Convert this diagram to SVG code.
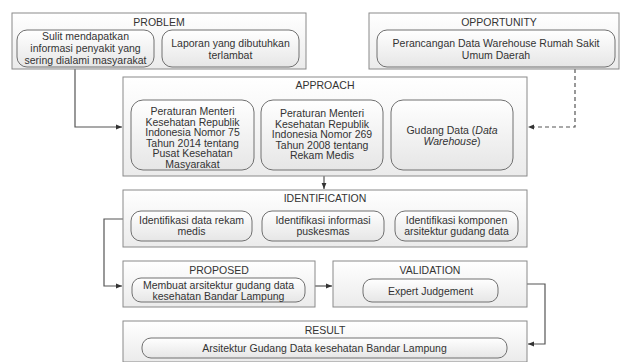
<svg xmlns="http://www.w3.org/2000/svg" width="621" height="362" viewBox="0 0 621 362">
<defs>
<linearGradient id="go" x1="0" y1="0" x2="0" y2="1"><stop offset="0" stop-color="#ffffff"/><stop offset="1" stop-color="#ebebeb"/></linearGradient>
<linearGradient id="gi" x1="0" y1="0" x2="0" y2="1"><stop offset="0" stop-color="#ffffff"/><stop offset="1" stop-color="#e6e6e6"/></linearGradient>
<marker id="ah" viewBox="0 0 10 10" refX="10" refY="5" markerWidth="6" markerHeight="6" orient="auto" markerUnits="userSpaceOnUse"><path d="M0,1 L10,5 L0,9 z" fill="#333"/></marker>
</defs>
<style>
.o{fill:url(#go);stroke:#8a8a8a;stroke-width:1}
.i{fill:url(#gi);stroke:#707070;stroke-width:1}
text{font-family:"Liberation Sans",Arial,sans-serif;font-size:10.5px;fill:#333;text-anchor:middle;dominant-baseline:central}
.c{fill:none;stroke:#555;stroke-width:1.2}
.d{fill:none;stroke:#555;stroke-width:1.2;stroke-dasharray:4,3}
</style>
<g id="connectors">
<path class="c" d="M75,69 V127 H122" marker-end="url(#ah)"/>
<path class="d" d="M575,69 V127 H528" marker-end="url(#ah)"/>
<path class="c" d="M324,176 V189" marker-end="url(#ah)"/>
<path class="c" d="M123,219 H104 V286 H122" marker-end="url(#ah)"/>
<path class="c" d="M315,286 H332" marker-end="url(#ah)"/>
<path class="c" d="M527,284 H545 V344 H528" marker-end="url(#ah)"/>
</g>
<g id="problem">
<rect class="o" x="12" y="13" width="294" height="56"/>
<text x="159" y="22">PROBLEM</text>
<rect class="i" x="17" y="30" width="137" height="37" rx="10"/>
<text x="85.5" y="36">Sulit mendapatkan</text>
<text x="85.5" y="48">informasi penyakit yang</text>
<text x="85.5" y="60">sering dialami masyarakat</text>
<rect class="i" x="162" y="30" width="137" height="37" rx="10"/>
<text x="230.5" y="42.5">Laporan yang dibutuhkan</text>
<text x="230.5" y="54.5">terlambat</text>
</g>
<g id="opportunity">
<rect class="o" x="369" y="13" width="250" height="56"/>
<text x="499" y="22">OPPORTUNITY</text>
<rect class="i" x="377" y="30" width="238" height="37" rx="10"/>
<text x="496" y="42.5">Perancangan Data Warehouse Rumah Sakit</text>
<text x="496" y="54.5">Umum Daerah</text>
</g>
<g id="approach">
<rect class="o" x="123" y="77" width="404" height="99"/>
<text x="325" y="85">APPROACH</text>
<rect class="i" x="131" y="100" width="123" height="70" rx="12"/>
<text x="192.5" y="111">Peraturan Menteri</text>
<text x="192.5" y="121.5">Kesehatan Republik</text>
<text x="192.5" y="132">Indonesia Nomor 75</text>
<text x="192.5" y="142.5">Tahun 2014 tentang</text>
<text x="192.5" y="153">Pusat Kesehatan</text>
<text x="192.5" y="163.5">Masyarakat</text>
<rect class="i" x="261" y="100" width="122" height="70" rx="12"/>
<text x="322" y="113">Peraturan Menteri</text>
<text x="322" y="123.5">Kesehatan Republik</text>
<text x="322" y="134">Indonesia Nomor 269</text>
<text x="322" y="144.5">Tahun 2008 tentang</text>
<text x="322" y="155">Rekam Medis</text>
<rect class="i" x="391" y="100" width="122" height="70" rx="12"/>
<text x="452" y="130">Gudang Data (<tspan font-style="italic">Data</tspan></text>
<text x="452" y="141"><tspan font-style="italic">Warehouse</tspan>)</text>
</g>
<g id="identification">
<rect class="o" x="123" y="190" width="404" height="57"/>
<text x="325" y="198">IDENTIFICATION</text>
<rect class="i" x="131" y="211" width="121" height="30" rx="10"/>
<text x="191.5" y="220">Identifikasi data rekam</text>
<text x="191.5" y="231">medis</text>
<rect class="i" x="262" y="211" width="122" height="30" rx="10"/>
<text x="323" y="220">Identifikasi informasi</text>
<text x="323" y="231">puskesmas</text>
<rect class="i" x="395" y="211" width="123" height="30" rx="10"/>
<text x="456.5" y="220">Identifikasi komponen</text>
<text x="456.5" y="231">arsitektur gudang data</text>
</g>
<g id="proposed">
<rect class="o" x="123" y="261" width="192" height="46"/>
<text x="219" y="270">PROPOSED</text>
<rect class="i" x="132" y="278" width="173" height="24" rx="9"/>
<text x="218.5" y="284.5">Membuat arsitektur gudang data</text>
<text x="218.5" y="295.5">kesehatan Bandar Lampung</text>
</g>
<g id="validation">
<rect class="o" x="333" y="261" width="194" height="46"/>
<text x="430" y="270">VALIDATION</text>
<rect class="i" x="363" y="279" width="135" height="23" rx="9"/>
<text x="430.5" y="290.5">Expert Judgement</text>
</g>
<g id="result">
<rect class="o" x="123" y="321" width="404" height="41"/>
<text x="325" y="330">RESULT</text>
<rect class="i" x="142" y="338" width="365" height="20" rx="9"/>
<text x="324.5" y="348">Arsitektur Gudang Data kesehatan Bandar Lampung</text>
</g>
</svg>
